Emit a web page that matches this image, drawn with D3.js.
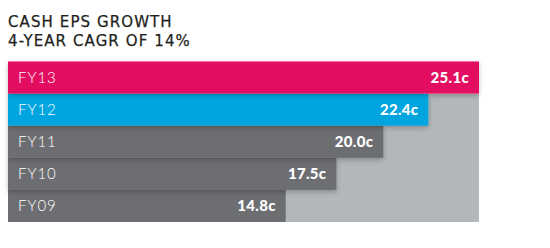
<!DOCTYPE html>
<html>
<head>
<meta charset="utf-8">
<script src="https://cdn.jsdelivr.net/npm/d3@7"></script>
<style>
  body { margin: 0; background: #fff; }
  svg { display: block; }
  .title { font-family: "DejaVu Sans", sans-serif; font-size: 15px; fill: #231f20; stroke: #231f20; stroke-width: 0.25px; letter-spacing: 1.1px; }
  .cat { font-family: "Lato", sans-serif; font-size: 15px; font-weight: 300; fill: #fff; letter-spacing: 1px; }
  .val { font-family: "Lato", sans-serif; font-size: 15px; font-weight: 900; fill: #fff; letter-spacing: 0.3px; }
</style>
</head>
<body>
<div id="chart"></div>
<script>
// data
const years = ['FY13', 'FY12', 'FY11', 'FY10', 'FY09'];
const eps = [25.1, 22.4, 20.0, 17.5, 14.8];
const valueLabels = ['25.1c', '22.4c', '20.0c', '17.5c', '14.8c'];
const titleLines = ['CASH EPS GROWTH', '4-YEAR CAGR OF 14%'];
const barColors = ['#e30d62', '#00a5e0', '#6d6e71', '#6d6e71', '#6d6e71'];

const width = 550, height = 248;
const xLeft = 8, xRight = 479, yTop = 61.5, yBottom = 222;

const svg = d3.select('#chart').append('svg')
  .attr('width', width)
  .attr('height', height);

// drop shadow for bars
const defs = svg.append('defs');
const f = defs.append('filter').attr('id', 'shadow')
  .attr('x', '-5%').attr('y', '-20%').attr('width', '110%').attr('height', '160%');
f.append('feDropShadow')
  .attr('dx', 0).attr('dy', 2).attr('stdDeviation', 2.5)
  .attr('flood-color', '#000').attr('flood-opacity', 0.25);

const x = d3.scaleLinear().domain([0, d3.max(eps)]).range([xLeft, xRight]);
const y = d3.scaleBand().domain(years).range([yTop, yBottom]).padding(0);

// title
svg.append('g').selectAll('text')
  .data(titleLines)
  .join('text')
    .attr('class', 'title')
    .attr('x', 8)
    .attr('y', (d, i) => 26.8 + i * 19)
    .text(d => d);

// light grey panel behind the lower bars
svg.append('rect')
  .attr('x', x(0))
  .attr('y', y(years[1]))
  .attr('width', x(d3.max(eps)) - x(0))
  .attr('height', yBottom - y(years[1]))
  .attr('fill', '#b1b7ba');

// bars, drawn bottom-up so upper bars cast shadow on lower ones
const idx = d3.range(years.length).reverse();
svg.append('g').selectAll('rect')
  .data(idx)
  .join('rect')
    .attr('x', x(0))
    .attr('y', i => y(years[i]))
    .attr('width', i => x(eps[i]) - x(0))
    .attr('height', y.bandwidth())
    .attr('fill', i => barColors[i])
    .attr('filter', i => i < years.length - 1 ? 'url(#shadow)' : null);

// category labels
svg.append('g').selectAll('text')
  .data(years)
  .join('text')
    .attr('class', 'cat')
    .attr('x', 18)
    .attr('y', d => y(d) + y.bandwidth() / 2 + 5.5)
    .text(d => d);

// value labels
svg.append('g').selectAll('text')
  .data(eps)
  .join('text')
    .attr('class', 'val')
    .attr('text-anchor', 'end')
    .attr('x', d => x(d) - 10)
    .attr('y', (d, i) => y(years[i]) + y.bandwidth() / 2 + 5.5)
    .text((d, i) => valueLabels[i]);
</script>
</body>
</html>
